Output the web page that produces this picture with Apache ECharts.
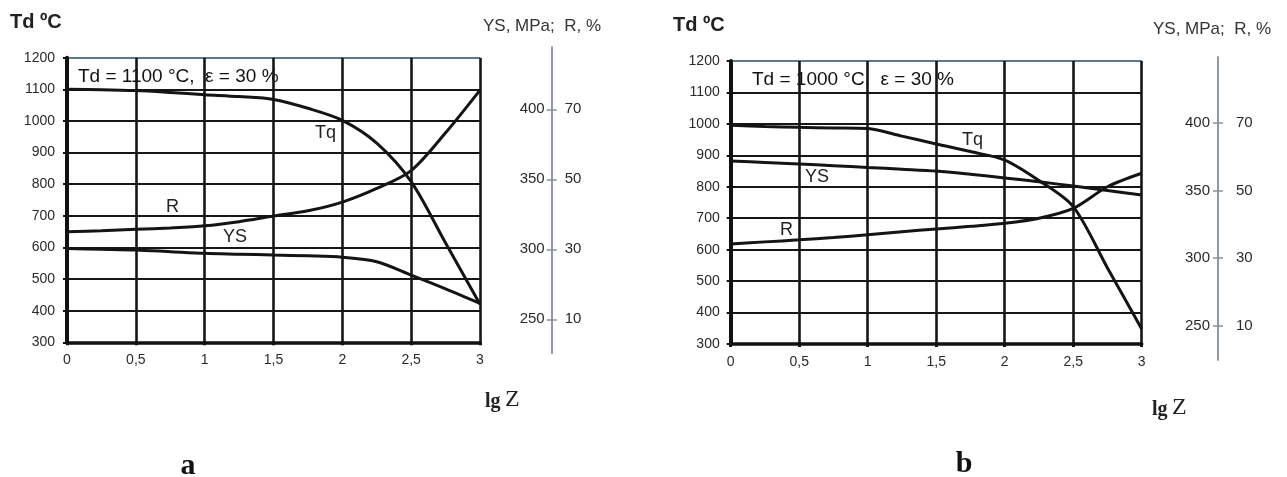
<!DOCTYPE html>
<html>
<head>
<meta charset="utf-8">
<script src="https://cdn.jsdelivr.net/npm/echarts@6/dist/echarts.min.js"></script>
<style>
html,body{margin:0;padding:0;background:#fff;}
#c{width:1287px;height:477px;}
</style>
</head>
<body>
<div id="c"></div>
<script>
// ---- data ----
const lgZ = [0, 0.25, 0.5, 0.75, 1, 1.25, 1.5, 1.75, 2, 2.25, 2.5, 2.75, 3];
const xTicks = [0, 0.5, 1, 1.5, 2, 2.5, 3];
const tdTicks = [300, 400, 500, 600, 700, 800, 900, 1000, 1100, 1200];
const ysTicks = [250, 300, 350, 400];
const rTicks = [10, 30, 50, 70];

// chart a: Td = 1100 °C
const tqA = [1100, 1099, 1096, 1090, 1083, 1077, 1068, 1040, 1002, 930, 808, 614, 420];   // °C
const ysA = [300.5, 300, 299.5, 298.3, 297.1, 296.5, 295.9, 295.3, 294.3, 291.1, 281.6, 271.8, 261.4]; // MPa
const rA  = [35.0, 35.3, 35.7, 36.1, 36.7, 37.9, 39.5, 41.0, 43.5, 47.4, 52.5, 63.3, 75.5]; // %

// chart b: Td = 1000 °C
const tqB = [996, 992, 989, 987, 985, 961, 936, 912, 885, 820, 737, 542, 348];
const ysB = [371.9, 370.8, 369.6, 368.4, 367.1, 365.8, 364.4, 362.0, 359.3, 356.5, 353.3, 350.0, 346.7];
const rB  = [34.2, 34.8, 35.4, 36.1, 36.9, 37.8, 38.6, 39.4, 40.3, 41.8, 44.7, 51.1, 55.1];

const pairs = (xs, ys) => xs.map((x, i) => [x, ys[i]]);

const TXT = '#2a2a2a';
const LBL_FONT = 'Liberation Sans';
const gridLine = '#161616';
const AX2 = '#8a90a2';
const tdSplitColors = tdTicks.map((v, i) => i === tdTicks.length - 1 ? '#5b7a92' : gridLine);

function mainX(gi, labelMargin) {
  return {
    type: 'value', gridIndex: gi, min: 0, max: 3, interval: 0.5,
    axisLine: { show: true, onZero: false, lineStyle: { color: '#111', width: 3.5 } },
    axisTick: { show: true, length: 3, lineStyle: { color: '#111', width: 3 } },
    axisLabel: { margin: labelMargin, color: TXT, fontSize: 14, fontFamily: LBL_FONT,
      formatter: v => String(v).replace('.', ',') },
    splitLine: { show: true, lineStyle: { color: gridLine, width: 2.6 } }
  };
}
function hiddenX(gi) {
  return { type: 'value', gridIndex: gi, min: 0, max: 3, show: false };
}
function tdY(gi, labelMargin) {
  return {
    type: 'value', gridIndex: gi, min: 300, max: 1200, interval: 100, position: 'left',
    axisLine: { show: true, onZero: false, lineStyle: { color: '#111', width: 4 } },
    axisTick: { show: true, length: 4, lineStyle: { color: '#111', width: 2 } },
    axisLabel: { margin: labelMargin, color: TXT, fontSize: 14, fontFamily: LBL_FONT,
      formatter: v => String(v) },
    splitLine: { show: true, lineStyle: { color: tdSplitColors, width: 2.2 } }
  };
}
function ysY(gi, offset, min, max, margin) {
  return {
    type: 'value', gridIndex: gi, position: 'right', offset: offset, min: min, max: max,
    axisLine: { show: true, onZero: false, lineStyle: { color: AX2, width: 1.5 } },
    axisTick: { show: true, inside: true, length: 5, customValues: ysTicks, lineStyle: { color: AX2, width: 1.5 } },
    axisLabel: { inside: true, margin: margin, customValues: ysTicks, color: TXT, fontSize: 15, fontFamily: LBL_FONT,
      formatter: v => String(v) },
    splitLine: { show: false }
  };
}
function rY(gi, offset, min, max, margin) {
  return {
    type: 'value', gridIndex: gi, position: 'right', offset: offset, min: min, max: max,
    axisLine: { show: true, onZero: false, lineStyle: { color: AX2, width: 1.5 } },
    axisTick: { show: true, inside: false, length: 5, customValues: rTicks, lineStyle: { color: AX2, width: 1.5 } },
    axisLabel: { margin: margin, customValues: rTicks, color: TXT, fontSize: 15, fontFamily: LBL_FONT,
      formatter: v => String(v) },
    splitLine: { show: false }
  };
}
function line(name, xi, yi, data) {
  return {
    name: name, type: 'line', xAxisIndex: xi, yAxisIndex: yi, data: data,
    symbol: 'none', smooth: 0.3, silent: true,
    lineStyle: { color: '#141414', width: 3 }
  };
}
function txt(text, x, y, font, fill, align) {
  return { type: 'text', silent: true, style: { text: text, x: x, y: y, font: font, fill: fill || '#222',
    textAlign: align || 'left', textVerticalAlign: 'middle' } };
}

const gA2 = { left: 67, top: 47, width: 413, height: 306.3, outerBoundsMode: 'none', containLabel: false };
const gB2 = { left: 730.7, top: 57, width: 411, height: 303, outerBoundsMode: 'none', containLabel: false };

const option = {
  backgroundColor: '#ffffff',
  animation: false,
  grid: [
    { left: 67, top: 57.7, width: 413, height: 284.6, outerBoundsMode: 'none', containLabel: false },
    Object.assign({}, gA2),
    Object.assign({}, gA2),
    { left: 730.7, top: 61, width: 411, height: 283, outerBoundsMode: 'none', containLabel: false },
    Object.assign({}, gB2),
    Object.assign({}, gB2)
  ],
  xAxis: [ mainX(0, 11), hiddenX(1), hiddenX(2), mainX(3, 11), hiddenX(4), hiddenX(5) ],
  yAxis: [
    tdY(0, 12),
    ysY(1, 71.7, 225.7, 444.5, 7),
    rY(2, 71.7, 0.29, 87.8, 13),
    tdY(3, 11),
    ysY(4, 76.3, 224.6, 448.8, 8),
    rY(5, 76.3, -0.15, 89.5, 18)
  ],
  series: [
    line('Tq', 0, 0, pairs(lgZ, tqA)),
    line('YS', 1, 1, pairs(lgZ, ysA)),
    line('R', 2, 2, pairs(lgZ, rA)),
    line('Tq', 3, 3, pairs(lgZ, tqB)),
    line('YS', 4, 4, pairs(lgZ, ysB)),
    line('R', 5, 5, pairs(lgZ, rB))
  ],
  graphic: { elements: [
    txt('Td ºC', 10, 22, 'bold 20px "Liberation Sans"', '#222'),
    txt('YS, MPa;  R, %', 483, 26, '17px "Liberation Sans"', '#333'),
    txt('Td = 1100 °C,  ε = 30 %', 78, 77, '19px "Liberation Sans"', '#111'),
    txt('Tq', 315, 133, '18px "Liberation Sans"', '#222'),
    txt('R', 166, 207, '18px "Liberation Sans"', '#222'),
    txt('YS', 223, 237, '18px "Liberation Sans"', '#222'),
    txt('lg', 485, 402, 'bold 20px "Liberation Serif"', '#222'),
    txt('Z', 505, 400, '24px "Liberation Serif"', '#222'),
    txt('a', 188, 466, 'bold 30px "Liberation Serif"', '#111', 'center'),

    txt('Td ºC', 673, 25, 'bold 20px "Liberation Sans"', '#222'),
    txt('YS, MPa;  R, %', 1153, 29, '17px "Liberation Sans"', '#333'),
    txt('Td = 1000 °C,  ε = 30 %', 752, 80, '19px "Liberation Sans"', '#111'),
    txt('Tq', 962, 140, '18px "Liberation Sans"', '#222'),
    txt('YS', 805, 177, '18px "Liberation Sans"', '#222'),
    txt('R', 780, 230, '18px "Liberation Sans"', '#222'),
    txt('lg', 1152, 410, 'bold 20px "Liberation Serif"', '#222'),
    txt('Z', 1172, 408, '24px "Liberation Serif"', '#222'),
    txt('b', 964, 464, 'bold 30px "Liberation Serif"', '#111', 'center')
  ]}
};

const chart = echarts.init(document.getElementById('c'), null, { renderer: 'canvas', width: 1287, height: 477 });
chart.setOption(option);
</script>
</body>
</html>
